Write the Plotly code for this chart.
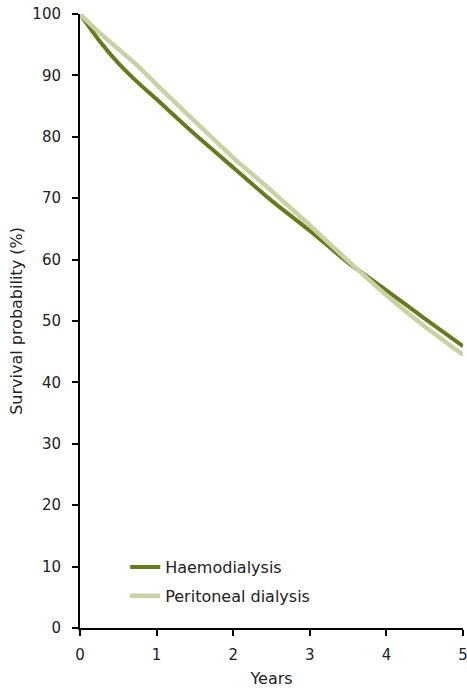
import plotly.graph_objects as go

years = [0, 0.25, 0.5, 0.75, 1, 1.5, 2, 2.5, 3, 3.5, 4, 4.5, 5]
haemodialysis = [100, 95.7, 92.0, 88.9, 86.1, 80.4, 75.0, 69.6, 64.7, 59.5, 55.0, 50.4, 45.9]
peritoneal = [100, 97.0, 94.3, 91.6, 88.5, 82.5, 76.6, 71.2, 65.6, 59.8, 54.2, 49.1, 44.5]
x_ticks = [0, 1, 2, 3, 4, 5]
y_ticks = [0, 10, 20, 30, 40, 50, 60, 70, 80, 90, 100]

fig = go.Figure()
fig.add_trace(go.Scatter(x=years, y=haemodialysis, mode="lines", name="Haemodialysis",
                         legendgroup="hd",
                         line=dict(color="#667b1c", width=4, shape="spline", smoothing=0.6)))
fig.add_trace(go.Scatter(x=years, y=peritoneal, mode="lines", name="Peritoneal dialysis",
                         legendgroup="pd",
                         line=dict(color="#c9d2a3", width=4.5, shape="spline", smoothing=0.6)))

fig.update_layout(
    width=467, height=688,
    margin=dict(l=80, r=4, t=14, b=60),
    paper_bgcolor="white", plot_bgcolor="white",
    font=dict(family="DejaVu Sans", size=16, color="#222"),
    showlegend=True,
    legend=dict(x=0.118, y=0.127, xanchor="left", yanchor="top", traceorder="grouped",
                bgcolor="rgba(0,0,0,0)", font=dict(size=16), tracegroupgap=5),
    xaxis=dict(range=[0, 5], tickvals=x_ticks, showline=True, linecolor="black", linewidth=2,
               ticks="outside", ticklen=6, tickwidth=2, tickcolor="black", showgrid=False,
               zeroline=False, tickfont=dict(size=15), ticklabelstandoff=6,
               ticklabeloverflow="allow", automargin=False,
               title=dict(text="Years", standoff=10, font=dict(size=16))),
    yaxis=dict(range=[0, 100], tickvals=y_ticks, showline=True, linecolor="black", linewidth=2,
               ticks="outside", ticklen=6, tickwidth=2, tickcolor="black", showgrid=False,
               zeroline=False, tickfont=dict(size=15), ticklabelstandoff=8,
               ticklabeloverflow="allow", automargin=False,
               title=dict(text="Survival probability (%)", standoff=6, font=dict(size=16))),
)

fig.write_html("out.html", config={"displayModeBar": False},
               post_script="document.body.style.margin='0';")
